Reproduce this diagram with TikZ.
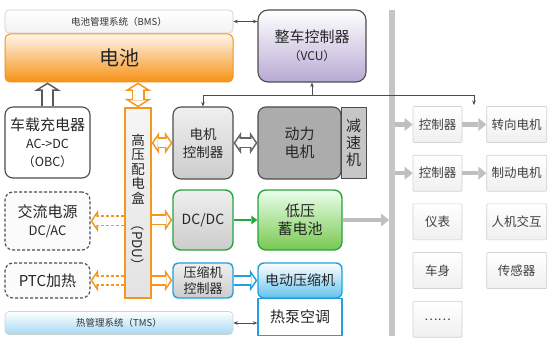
\documentclass[tikz,border=0pt]{standalone}
\usepackage{fontspec}
\setmainfont{Noto Sans CJK SC}
\usetikzlibrary{arrows.meta,positioning,calc}

\definecolor{pduorange}{RGB}{245,150,30}
\definecolor{battorange}{RGB}{246,146,20}
\definecolor{ecgreen}{RGB}{40,165,65}
\definecolor{ecblue}{RGB}{35,160,220}
\definecolor{vcupurple}{RGB}{184,170,212}
\definecolor{tmsblue}{RGB}{165,218,245}

\tikzset{
  boxtext/.style={font=\fontsize{15}{18}\selectfont, text=black!85, align=center, inner sep=0pt},
  sysbar/.style={rounded corners=4pt, draw=gray!40, line width=0.6pt,
    font=\fontsize{9.5}{11}\selectfont, text=black!80,
    minimum width=228pt, minimum height=23pt, inner sep=0pt},
  unitbox/.style={boxtext, draw=black!70, line width=1.1pt, rounded corners=8pt},
  greybox/.style={unitbox, top color=gray!12, bottom color=gray!40},
  dashbox/.style={unitbox, densely dashed, fill=gray!3, minimum width=85pt},
  sidebox/.style={draw=gray!35, line width=0.7pt, top color=white, bottom color=gray!12,
    rounded corners=1pt, font=\fontsize{12.5}{14}\selectfont, text=black!75,
    minimum width=49pt, minimum height=36pt, inner sep=0pt},
  wideside/.style={sidebox, minimum width=60pt},
  hollow/.style={line width=11pt, draw=#1, -{Triangle[length=7.5pt,width=22pt,line width=0pt]},
    postaction={draw=white, solid, line width=7.8pt,
      -{Triangle[length=3.96pt,width=11.6pt,line width=0pt]}, shorten >=1.94pt}},
  hollowboth/.style={line width=11pt, draw=#1,
    {Triangle[length=7.5pt,width=22pt,line width=0pt]}-{Triangle[length=7.5pt,width=22pt,line width=0pt]},
    postaction={draw=white, solid, line width=7.8pt,
      {Triangle[length=3.96pt,width=11.6pt,line width=0pt]}-{Triangle[length=3.96pt,width=11.6pt,line width=0pt]},
      shorten >=1.94pt, shorten <=1.94pt}},
  bighollow/.style={line width=13pt, draw=#1, -{Triangle[length=8.5pt,width=27pt,line width=0pt]},
    postaction={draw=white, solid, line width=9.8pt,
      -{Triangle[length=5.01pt,width=15.9pt,line width=0pt]}, shorten >=1.89pt}},
  bighollowboth/.style={line width=13pt, draw=#1,
    {Triangle[length=8.5pt,width=27pt,line width=0pt]}-{Triangle[length=8.5pt,width=27pt,line width=0pt]},
    postaction={draw=white, solid, line width=9.8pt,
      {Triangle[length=5.01pt,width=15.9pt,line width=0pt]}-{Triangle[length=5.01pt,width=15.9pt,line width=0pt]},
      shorten >=1.89pt, shorten <=1.89pt}},
  grayarrow/.style={line width=4.5pt, draw=gray!50, -{Triangle[length=8pt,width=13pt,line width=0pt]}},
  greenarrow/.style={line width=2.5pt, draw=ecgreen, -{Triangle[length=6pt,width=9pt,line width=0pt]}},
  thinarrow/.style={line width=0.6pt, draw=black!70, -{Stealth[length=4.5pt,width=3.5pt]}},
  thinboth/.style={thinarrow, {Stealth[length=4.5pt,width=3.5pt]}-{Stealth[length=4.5pt,width=3.5pt]}},
}

\begin{document}
\begin{tikzpicture}[x=1pt, y=-1pt]
  \useasboundingbox (0,0) rectangle (549,344);
  \fill[white] (0,0) rectangle (549,344);

  % battery side
  \node[sysbar, top color=white, bottom color=gray!10] (bms) at (119,21.5) {电池管理系统（BMS）};
  \node[draw=battorange, line width=1pt, rounded corners=5pt, top color=orange!8, bottom color=battorange,
    minimum width=228pt, minimum height=48pt, font=\fontsize{20}{24}\selectfont, text=black!85] (batt) at (119,58) {电池};
  \node[unitbox, top color=white, bottom color=vcupurple, minimum width=108pt, minimum height=72pt,
    rounded corners=10pt] (vcu) at (312,46) {整车控制器\\{\fontsize{12}{14}\selectfont（VCU）}};

  \node[unitbox, fill=white, minimum width=85pt, minimum height=71pt] (obc) at (47.5,142.5)
    {车载充电器\\{\fontsize{12.5}{20}\selectfont AC->DC}\\{\fontsize{12.5}{20}\selectfont（OBC）}};
  \node[dashbox, minimum height=58pt] (acsrc) at (47.5,221) {交流电源\\{\fontsize{13}{17}\selectfont DC/AC}};
  \node[dashbox, minimum height=35pt] (ptc) at (47.5,280.5) {PTC加热};
  \node[sysbar, top color=white, bottom color=tmsblue, draw=gray!35] (tms) at (119,323) {热管理系统（TMS）};

  \node[draw=pduorange, line width=1.3pt, top color=gray!8, bottom color=gray!22, minimum width=26pt,
    minimum height=190pt, inner sep=0pt, align=center, font=\fontsize{13.5}{14.5}\selectfont, text=black!85] (pdu) at (138,203)
    {高\\压\\配\\电\\盒\\\rotatebox{-90}{（PDU）}};

  % drive units
  \node[greybox, minimum width=60pt, minimum height=72pt, font=\fontsize{13.5}{18}\selectfont] (mctrl) at (203,143) {电机\\控制器};
  \node[unitbox, top color=gray!65, middle color=gray!12, bottom color=gray!65,
    minimum width=83pt, minimum height=72pt] (motor) at (299.5,143) {动力\\电机};
  \node[boxtext, draw=black!70, line width=1.1pt, fill=gray!45, minimum width=25pt, minimum height=71pt,
    font=\fontsize{15}{17}\selectfont, right=-1pt of motor] (reducer) {减\\速\\机};

  \node[greybox, draw=ecgreen, line width=1.4pt, minimum width=60pt, minimum height=60pt,
    font=\fontsize{14}{17}\selectfont] (dcdc) at (203,220) {DC/DC};
  \node[unitbox, draw=ecgreen, line width=1.4pt, top color=green!8, bottom color={rgb,255:red,120;green,200;blue,80},
    minimum width=84pt, minimum height=60pt] (lvbat) at (300,220) {低压\\蓄电池};

  \node[greybox, draw=ecblue, line width=1.4pt, rounded corners=5pt, minimum width=60pt, minimum height=35pt,
    font=\fontsize{13}{16}\selectfont] (cctrl) at (203,280.5) {压缩机\\控制器};
  \node[unitbox, draw=ecblue, line width=1.4pt, rounded corners=6pt, top color=white, bottom color={rgb,255:red,100;green,195;blue,238},
    minimum width=84pt, minimum height=35pt, font=\fontsize{14}{16}\selectfont] (ecomp) at (300,280.5) {电动压缩机};
  \node[boxtext, draw=ecblue, line width=1.4pt, fill=white, minimum width=84pt, minimum height=37pt,
    below=-1pt of ecomp] (hpac) {热泵空调};

  % low voltage bus
  \node[fill=gray!45, minimum width=5.5pt, minimum height=326pt, inner sep=0pt] (busbar) at (392,173) {};

  \node[sidebox] (ctrlA) at (437.5,124.5) {控制器};
  \node[wideside, right=24pt of ctrlA] (steer) {转向电机};
  \node[sidebox, below=12pt of ctrlA] (ctrlB) {控制器};
  \node[wideside, right=24pt of ctrlB] (brake) {制动电机};
  \node[sidebox, below=12pt of ctrlB] (meter) {仪表};
  \node[wideside, right=24pt of meter] (hmi) {人机交互};
  \node[sidebox, below=12pt of meter] (body) {车身};
  \node[wideside, right=24pt of body] (sensor) {传感器};
  \node[sidebox, below=12pt of body] (others) {……};

  % signal lines
  \draw[thinboth] (bms.east) -- (bms.east -| vcu.west);
  \draw[thinboth] (tms.east) -- (tms.east -| hpac.west);
  \coordinate (vcujoint) at (312,95);
  \coordinate (vcuend) at (474,105);
  \draw[thinarrow] (vcujoint) -- (vcu.south);
  \draw[thinarrow] (vcujoint) -| (mctrl.north);
  \draw[thinarrow] (vcujoint) -| (vcuend);

  % power flow
  \draw[bighollow=black!65] (obc.north) -- (obc.north |- batt.south);
  \draw[bighollowboth=pduorange] (pdu.north) -- (pdu.north |- batt.south);
  \draw[hollowboth=pduorange] (pdu.east |- mctrl) -- (mctrl.west);
  \draw[hollowboth=black!60] (mctrl.east) -- (motor.west);
  \draw[hollow=pduorange] (pdu.east |- dcdc) -- (dcdc.west);
  \draw[hollow=pduorange] (pdu.east |- cctrl) -- (cctrl.west);
  \draw[hollow=pduorange, densely dashed] (pdu.west |- acsrc) -- (acsrc.east);
  \draw[hollow=pduorange, densely dashed] (pdu.west |- ptc) -- (ptc.east);
  \draw[hollow=ecblue] (cctrl.east) -- (ecomp.west);
  \draw[greenarrow] (dcdc.east) -- (lvbat.west);
  \draw[grayarrow] (lvbat.east) -- (lvbat.east -| busbar.west);
  \draw[grayarrow] (busbar.east |- ctrlA) -- (ctrlA.west);
  \draw[grayarrow] (ctrlA.east) -- (steer.west);
  \draw[grayarrow] (busbar.east |- ctrlB) -- (ctrlB.west);
  \draw[grayarrow] (ctrlB.east) -- (brake.west);
\end{tikzpicture}
\end{document}
